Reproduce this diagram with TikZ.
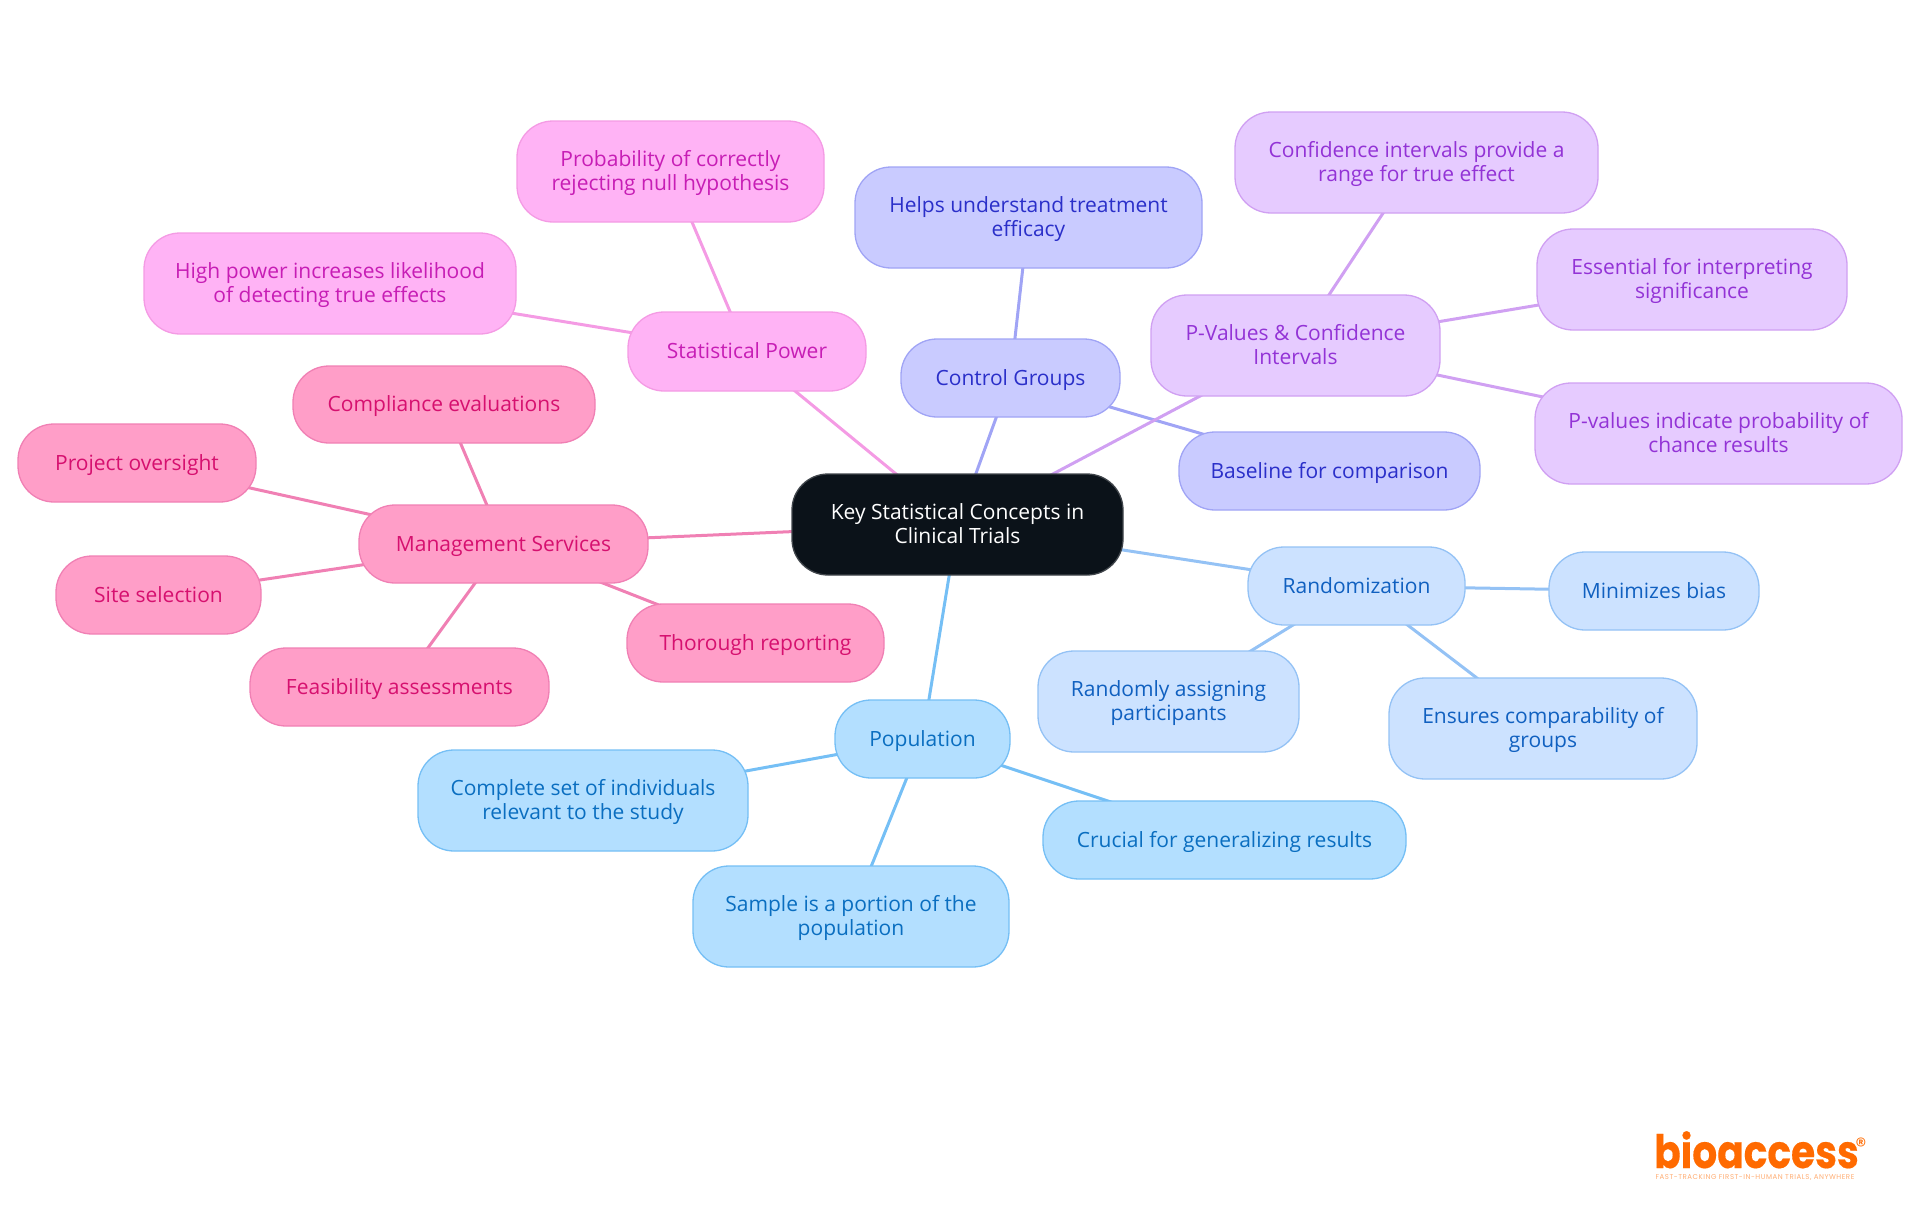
\documentclass[tikz,border=0pt]{standalone}
\usepackage{fontspec}
\setmainfont{Open Sans}
\newfontfamily\popf[BoldFeatures={FakeBold=0.4}]{Poppins}
\newfontfamily\popt[LetterSpace=7.6]{Poppins}
\usetikzlibrary{backgrounds}
\definecolor{ckF}{HTML}{0B1219}\definecolor{ckD}{HTML}{40454B}
\definecolor{mgF}{HTML}{FFB3F5}\definecolor{mgD}{HTML}{F49BE4}\definecolor{mgT}{HTML}{C71DB5}
\definecolor{hpF}{HTML}{FF9EC8}\definecolor{hpD}{HTML}{F080B4}\definecolor{hpT}{HTML}{D6106F}
\definecolor{viF}{HTML}{C9CBFF}\definecolor{viD}{HTML}{A0A4F5}\definecolor{viT}{HTML}{2A2FC9}
\definecolor{puF}{HTML}{E6CBFF}\definecolor{puD}{HTML}{D0A0F2}\definecolor{puT}{HTML}{9333D6}
\definecolor{lbF}{HTML}{CCE2FF}\definecolor{lbD}{HTML}{94C2F5}\definecolor{lbT}{HTML}{1060C0}
\definecolor{skF}{HTML}{B3DFFF}\definecolor{skD}{HTML}{75BFF5}\definecolor{skT}{HTML}{0A6EC0}
\definecolor{logo}{HTML}{FF6A00}
\tikzset{
 x=1pt,y=-1pt,
 bx/.style={shape=rectangle,rounded corners=36pt,line width=1.3pt,align=center,inner sep=0pt,font=\fontsize{21}{23.7}\selectfont},
 lk/.style={line width=3pt},
}
\newcommand{\stt}{\rule{0pt}{19.5pt}}
\newcommand{\stb}{\rule[-5pt]{0pt}{5pt}}
\newcommand{\nd}[7]{\node[bx,draw=#6D,fill=#6F,text=#6T,minimum width=#3pt-#2pt,minimum height=#5pt-#4pt] (#1) at ({(#2+#3)/2},{(#4+#5)/2}) {\stt #7\stb};}
\begin{document}
\begin{tikzpicture}
\useasboundingbox (0,0) rectangle (1920,1215);
\node[bx,draw=ckD,fill=ckF,text=white,minimum width=331pt,minimum height=101pt] (root) at (957.5,524.5) {\stt Key Statistical Concepts in\\Clinical Trials\stb};
\nd{sp}{628}{866}{312}{391}{mg}{Statistical Power}
\nd{pr}{517}{824}{121}{222}{mg}{Probability of correctly\\rejecting null hypothesis}
\nd{hi}{144}{516}{233}{334}{mg}{High power increases likelihood\\of detecting true effects}
\nd{ms}{359}{648}{505}{583}{hp}{Management Services}
\nd{co}{293}{595}{366}{443}{hp}{Compliance evaluations}
\nd{po}{18}{256}{424}{502}{hp}{Project oversight}
\nd{si}{56}{261}{556}{634}{hp}{Site selection}
\nd{th}{627}{884}{604}{682}{hp}{Thorough reporting}
\nd{fe}{250}{549}{648}{726}{hp}{Feasibility assessments}
\nd{cg}{901}{1120}{339}{417}{vi}{Control Groups}
\nd{he}{855}{1202}{167}{268}{vi}{Helps understand treatment\\efficacy}
\nd{ba}{1179}{1480}{432}{510}{vi}{Baseline for comparison}
\nd{pv}{1151}{1440}{295}{396}{pu}{P-Values \& Confidence\\Intervals}
\nd{ci}{1235}{1598}{112}{213}{pu}{Confidence intervals provide a\\range for true effect}
\nd{es}{1537}{1847}{229}{330}{pu}{Essential for interpreting\\significance}
\nd{pp}{1535}{1902}{383}{484}{pu}{P-values indicate probability of\\chance results}
\nd{ra}{1248}{1465}{547}{625}{lb}{Randomization}
\nd{mi}{1549}{1759}{552}{630}{lb}{Minimizes bias}
\nd{rn}{1038}{1299}{651}{752}{lb}{Randomly assigning\\participants}
\nd{en}{1389}{1697}{678}{779}{lb}{Ensures comparability of\\groups}
\nd{pn}{835}{1010}{700}{778}{sk}{Population}
\nd{cm}{418}{748}{750}{851}{sk}{Complete set of individuals\\relevant to the study}
\nd{cr}{1043}{1406}{801}{879}{sk}{Crucial for generalizing results}
\nd{sa}{693}{1009}{866}{967}{sk}{Sample is a portion of the\\population}
\begin{pgfonlayer}{background}
\draw[lk,draw=mgD] (root.center)--(sp.center) (sp.center)--(pr.center) (sp.center)--(hi.center);
\draw[lk,draw=hpD] (root.center)--(ms.center) (ms.center)--(co.center) (ms.center)--(po.center) (ms.center)--(si.center) (ms.center)--(th.center) (ms.center)--(fe.center);
\draw[lk,draw=viD] (root.center)--(cg.center) (cg.center)--(he.center) (cg.center)--(ba.center);
\draw[lk,draw=puD] (root.center)--(pv.center) (pv.center)--(ci.center) (pv.center)--(es.center) (pv.center)--(pp.center);
\draw[lk,draw=lbD] (root.center)--(ra.center) (ra.center)--(mi.center) (ra.center)--(rn.center) (ra.center)--(en.center);
\draw[lk,draw=skD] (root.center)--(pn.center) (pn.center)--(cm.center) (pn.center)--(cr.center) (pn.center)--(sa.center);
\end{pgfonlayer}
\node[text=logo,inner sep=0pt,anchor=base west,font=\popf\bfseries\fontsize{46}{46}\selectfont] (lg) at (1654,1168) {\scalebox{0.85}[1]{bioaccess}};
\node[text=logo,inner sep=0pt,font=\popf\fontsize{22}{22}\selectfont] (rg) at (1861,1146) {®};
\node[text=logo!55,inner sep=0pt,font=\popt\fontsize{7}{8}\selectfont] (tg) at (1755,1178) {FAST-TRACKING FIRST-IN-HUMAN TRIALS, ANYWHERE};
\end{tikzpicture}
\end{document}
